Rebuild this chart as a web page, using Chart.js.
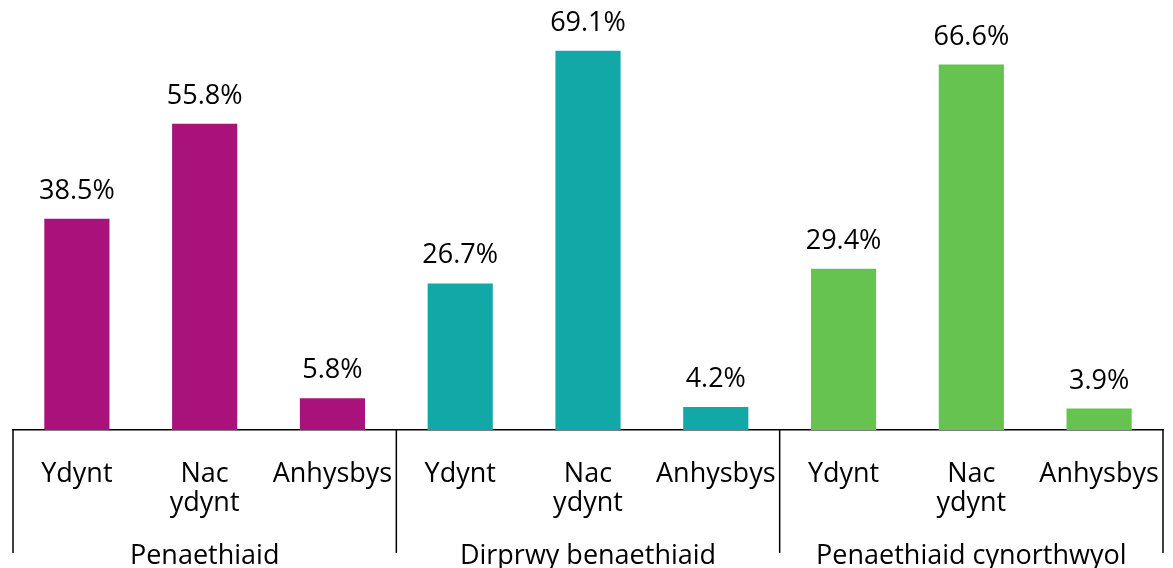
<!DOCTYPE html>
<html>
<head>
<meta charset="utf-8">
<script src="https://cdn.jsdelivr.net/npm/chart.js@4"></script>
<style>
  html, body { margin: 0; padding: 0; background: #fff; }
  #wrap { width: 1173px; height: 568px; }
</style>
</head>
<body>
<div id="wrap"><canvas id="bar-chart"></canvas></div>
<script>
const categories = [['Ydynt'], ['Nac', 'ydynt'], ['Anhysbys']];
const groups = ['Penaethiaid', 'Dirprwy benaethiaid', 'Penaethiaid cynorthwyol'];
const values = [38.5, 55.8, 5.8, 26.7, 69.1, 4.2, 29.4, 66.6, 3.9];
const groupColors = ['#A8127A', '#13A8A8', '#66C34F'];

const FONT = '"Open Sans", "Noto Sans", sans-serif';

const labels = [];
const colors = [];
groups.forEach((g, gi) => {
  categories.forEach((c) => {
    labels.push(c);
    colors.push(groupColors[gi]);
  });
});

const decorations = {
  id: 'decorations',
  afterDraw(chart) {
    const ctx = chart.ctx;
    const x = chart.scales.x;
    const y = chart.scales.y;
    const half = (x.getPixelForValue(1) - x.getPixelForValue(0)) / 2;
    const base = x.top;

    // value labels
    ctx.save();
    ctx.fillStyle = '#000';
    ctx.font = '27px ' + FONT;
    ctx.textAlign = 'center';
    ctx.textBaseline = 'alphabetic';
    values.forEach((v, i) => {
      ctx.fillText(v.toFixed(1) + '%', x.getPixelForValue(i), y.getPixelForValue(v) - 20);
    });

    // group separators
    ctx.strokeStyle = '#000';
    ctx.lineWidth = 1.5;
    for (let k = 0; k <= groups.length; k++) {
      const idx = k * categories.length;
      const px = idx >= values.length
        ? x.getPixelForValue(values.length - 1) + half
        : x.getPixelForValue(idx) - half;
      ctx.beginPath();
      ctx.moveTo(px, base);
      ctx.lineTo(px, base + 123);
      ctx.stroke();
    }

    // group labels
    groups.forEach((g, gi) => {
      const mid = x.getPixelForValue(gi * categories.length + 1);
      ctx.fillText(g, mid, base + 134);
    });
    ctx.restore();
  },
};

new Chart(document.getElementById('bar-chart'), {
  type: 'bar',
  data: {
    labels: labels,
    datasets: [{
      data: values,
      backgroundColor: colors,
      barPercentage: 0.51,
      categoryPercentage: 1,
    }],
  },
  options: {
    responsive: true,
    maintainAspectRatio: false,
    animation: false,
    layout: {
      padding: { top: 2, left: 13, right: 10, bottom: 0 },
    },
    scales: {
      y: {
        display: false,
        min: 0,
        max: 78,
      },
      x: {
        grid: { display: false },
        border: { display: true, color: '#000', width: 1.5 },
        ticks: {
          color: '#000',
          padding: 21,
          maxRotation: 0,
          autoSkip: false,
          font: { family: FONT, size: 27, lineHeight: 1.1 },
        },
        afterFit: (scale) => {
          scale.height = 138;
          scale.paddingLeft = 0;
          scale.paddingRight = 0;
        },
      },
    },
    plugins: {
      legend: { display: false },
      tooltip: { enabled: false },
    },
  },
  plugins: [decorations],
});
</script>
</body>
</html>
